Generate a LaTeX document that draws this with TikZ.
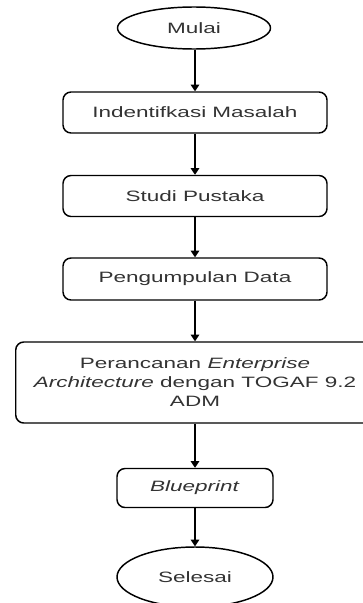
\documentclass[tikz,border=0pt]{standalone}
\usepackage{fontspec}
\setmainfont[FakeStretch=1.5]{Liberation Sans}
\usetikzlibrary{shapes.geometric,arrows.meta}
\definecolor{txt}{HTML}{333333}
\begin{document}
\begin{tikzpicture}[x=0.75pt,y=-0.75pt,
  lbl/.style={text=txt, font=\fontsize{11.25}{14.25}\selectfont, align=center, inner sep=0pt},
  box/.style={lbl, draw=black, line width=1.1pt, rounded corners=6pt},
  term/.style={lbl, draw=black, ellipse, line width=1.1pt},
  flow/.style={-{Triangle[length=5pt,width=6.5pt]}, line width=0.9pt, draw=black}]
\useasboundingbox (0,0) rectangle (363,603);
\clip (0,0) rectangle (363,603);
\node[term, minimum width=114.75pt, minimum height=31.5pt] (mulai) at (194,28) {Mulai};
\node[box, minimum width=198pt, minimum height=30.75pt] (ident) at (195,112.5) {Indentifkasi Masalah};
\node[box, minimum width=198pt, minimum height=30.75pt] (studi) at (195,196) {Studi Pustaka};
\node[box, minimum width=198pt, minimum height=31.5pt] (kumpul) at (195,279) {Pengumpulan Data};
\node[box, anchor=west, minimum width=285pt, minimum height=60.75pt] (ea) at (15,382.5) {};
\node[lbl] (eatext) at (195,382.5) {Perancanan \textit{Enterprise}\\ \textit{Architecture} dengan TOGAF 9.2\\ ADM};
\node[box, minimum width=117pt, minimum height=29.25pt] (blue) at (195,488) {\textit{Blueprint}};
\node[term, minimum width=117pt, minimum height=45pt] (selesai) at (195,577) {Selesai};
\draw[flow] (ident.north |- mulai.south) -- (ident.north);
\draw[flow] (ident) -- (studi);
\draw[flow] (studi) -- (kumpul);
\draw[flow] (kumpul) -- (kumpul.south |- ea.north);
\draw[flow] (blue.north |- ea.south) -- (blue);
\draw[flow] (blue) -- (selesai);
\end{tikzpicture}
\end{document}
